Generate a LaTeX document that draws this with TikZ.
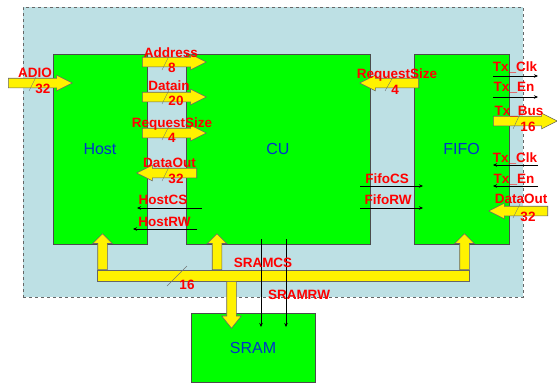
\documentclass[tikz,border=0pt]{standalone}
\usepackage{fontspec}
\setmainfont{Liberation Sans}
\usetikzlibrary{arrows.meta,shapes.arrows}
\definecolor{boxgreen}{HTML}{00FF00}
\definecolor{areablue}{HTML}{BDE0E4}
\definecolor{sigred}{HTML}{FF0000}
\definecolor{nameblue}{HTML}{0033CC}

\begin{document}
\begin{tikzpicture}[x=1pt,y=-1pt,
  area/.style={draw=black!60,dashed,fill=areablue,inner sep=0pt},
  block/.style={draw=black!70,fill=boxgreen,text=nameblue,inner sep=0pt,font=\fontsize{16}{16}\selectfont},
  busbar/.style={draw=black!60,fill=yellow,line width=0.6pt,inner sep=0pt},
  barrow/.style={single arrow,draw=black!60,fill=yellow,line width=0.6pt,inner xsep=0pt,inner ysep=4.5pt,
    minimum width=0pt,single arrow head extend=3pt,single arrow tip angle=53,anchor=tail},
  vbarrow/.style={barrow,inner xsep=4.5pt,inner ysep=0pt,single arrow head extend=5pt},
  lbl/.style={text=sigred,font=\bfseries\fontsize{13.5}{14}\selectfont,inner sep=0pt,text height=10pt,text depth=0pt},
  sig/.style={-{Stealth[length=4pt,width=3.5pt]},line width=0.5pt},
  slash/.style={draw=black!55,line width=0.4pt}
]
\useasboundingbox (0,0) rectangle (557,383);

% frame and blocks
\node[area,minimum width=500pt,minimum height=290pt] (area) at (273,152) {};
\node[block,minimum width=94pt,minimum height=190pt] (host) at (100,149) {Host};
\node[block,minimum width=184pt,minimum height=190pt] (cu) at (278,149) {CU};
\node[block,minimum width=95pt,minimum height=190pt] (fifo) at (461.5,149) {FIFO};
\node[block,minimum width=124pt,minimum height=69pt] (sram) at (253,347.5) {SRAM};

% data bus to SRAM
\node[busbar,minimum width=372pt,minimum height=11pt] (bus) at (283,275.5) {};
\node[vbarrow,shape border rotate=90,single arrow tip angle=90,minimum height=36pt] (bushost) at (102.5,270) {};
\node[vbarrow,shape border rotate=90,single arrow tip angle=90,minimum height=36pt] (buscu) at (217,270) {};
\node[vbarrow,shape border rotate=90,single arrow tip angle=90,minimum height=36pt] (busfifo) at (464.5,270) {};
\node[vbarrow,shape border rotate=270,single arrow tip angle=77,minimum height=47pt] (bussram) at (231.5,281) {};

% wide buses
\node[barrow,minimum height=64pt] (adioar) at (8,83) {};
\node[barrow,minimum height=64pt] (addrar) at (142,62) {};
\node[barrow,minimum height=64pt] (datainar) at (142,97) {};
\node[barrow,minimum height=64pt] (reqhar) at (142,133) {};
\node[barrow,shape border rotate=180,minimum height=60pt] (douthar) at (197,173) {};
\node[barrow,shape border rotate=180,minimum height=59pt] (reqfar) at (419,83) {};
\node[barrow,minimum height=64pt] (txbusar) at (493,121) {};
\node[barrow,shape border rotate=180,minimum height=59pt] (doutfar) at (548,211) {};

% width marks
\draw[slash] (29,91) -- (36,77);
\draw[slash] (162,70) -- (169,56);
\draw[slash] (162,104) -- (169,90);
\draw[slash] (162,140) -- (169,126);
\draw[slash] (162,181) -- (169,167);
\draw[slash] (385,91) -- (393,77);
\draw[slash] (513,129) -- (520,114);
\draw[slash] (513,218) -- (520,204);
\draw[slash] (167,286) -- (187,266);

% control lines
\coordinate (hostcs-a) at (202,208);
\coordinate (hostcs-b) at (137,208);
\coordinate (hostrw-a) at (197,229);
\coordinate (hostrw-b) at (133,229);
\coordinate (fifocs-a) at (360,186);
\coordinate (fifocs-b) at (423,186);
\coordinate (fiforw-a) at (360,208);
\coordinate (fiforw-b) at (423,208);
\coordinate (txclka-a) at (493,76);
\coordinate (txclka-b) at (538,76);
\coordinate (txena-a) at (493,97);
\coordinate (txena-b) at (538,97);
\coordinate (txclkb-a) at (538,165);
\coordinate (txclkb-b) at (493,165);
\coordinate (txenb-a) at (538,186);
\coordinate (txenb-b) at (493,186);
\coordinate (sramcs-a) at (261,239);
\coordinate (sramcs-b) at (261,327);
\coordinate (sramrw-a) at (286,239);
\coordinate (sramrw-b) at (286,327);
\draw[sig] (hostcs-a) -- (hostcs-b);
\draw[sig] (hostrw-a) -- (hostrw-b);
\draw[sig] (fifocs-a) -- (fifocs-b);
\draw[sig] (fiforw-a) -- (fiforw-b);
\draw[sig] (txclka-a) -- (txclka-b);
\draw[sig] (txena-a) -- (txena-b);
\draw[sig] (txclkb-a) -- (txclkb-b);
\draw[sig] (txenb-a) -- (txenb-b);
\draw[sig] (sramcs-a) -- (sramcs-b);
\draw[sig] (sramrw-a) -- (sramrw-b);

% labels
\node[lbl] (adio) at (35,72) {ADIO};
\node[lbl] (adiow) at (43,88) {32};
\node[lbl] (addr) at (171,52) {Address};
\node[lbl] (addrw) at (172,67) {8};
\node[lbl] (datain) at (169,85) {Datain};
\node[lbl] (datainw) at (176,100) {20};
\node[lbl] (reqh) at (172,122) {RequestSize};
\node[lbl] (reqhw) at (172,137) {4};
\node[lbl] (douth) at (169.5,162) {DataOut};
\node[lbl] (douthw) at (176,178) {32};
\node[lbl] (hostcs) at (163,199) {HostCS};
\node[lbl] (hostrw) at (164.5,221) {HostRW};
\node[lbl] (reqf) at (397,73) {RequestSize};
\node[lbl] (reqfw) at (395,89) {4};
\node[lbl] (fifocs) at (387,178) {FifoCS};
\node[lbl] (fiforw) at (388,199) {FifoRW};
\node[lbl] (txclka) at (515,66) {Tx\_Clk};
\node[lbl] (txena) at (514,86) {Tx\_En};
\node[lbl] (txbus) at (519,110) {Tx\_Bus};
\node[lbl] (txbusw) at (528,126) {16};
\node[lbl] (txclkb) at (515,157) {Tx\_Clk};
\node[lbl] (txenb) at (514,178) {Tx\_En};
\node[lbl] (doutf) at (521,198) {DataOut};
\node[lbl] (doutfw) at (528,216) {32};
\node[lbl] (sramcs) at (263,262) {SRAMCS};
\node[lbl] (sramrw) at (299,294) {SRAMRW};
\node[lbl] (busw) at (187,284) {16};
\end{tikzpicture}
\end{document}
